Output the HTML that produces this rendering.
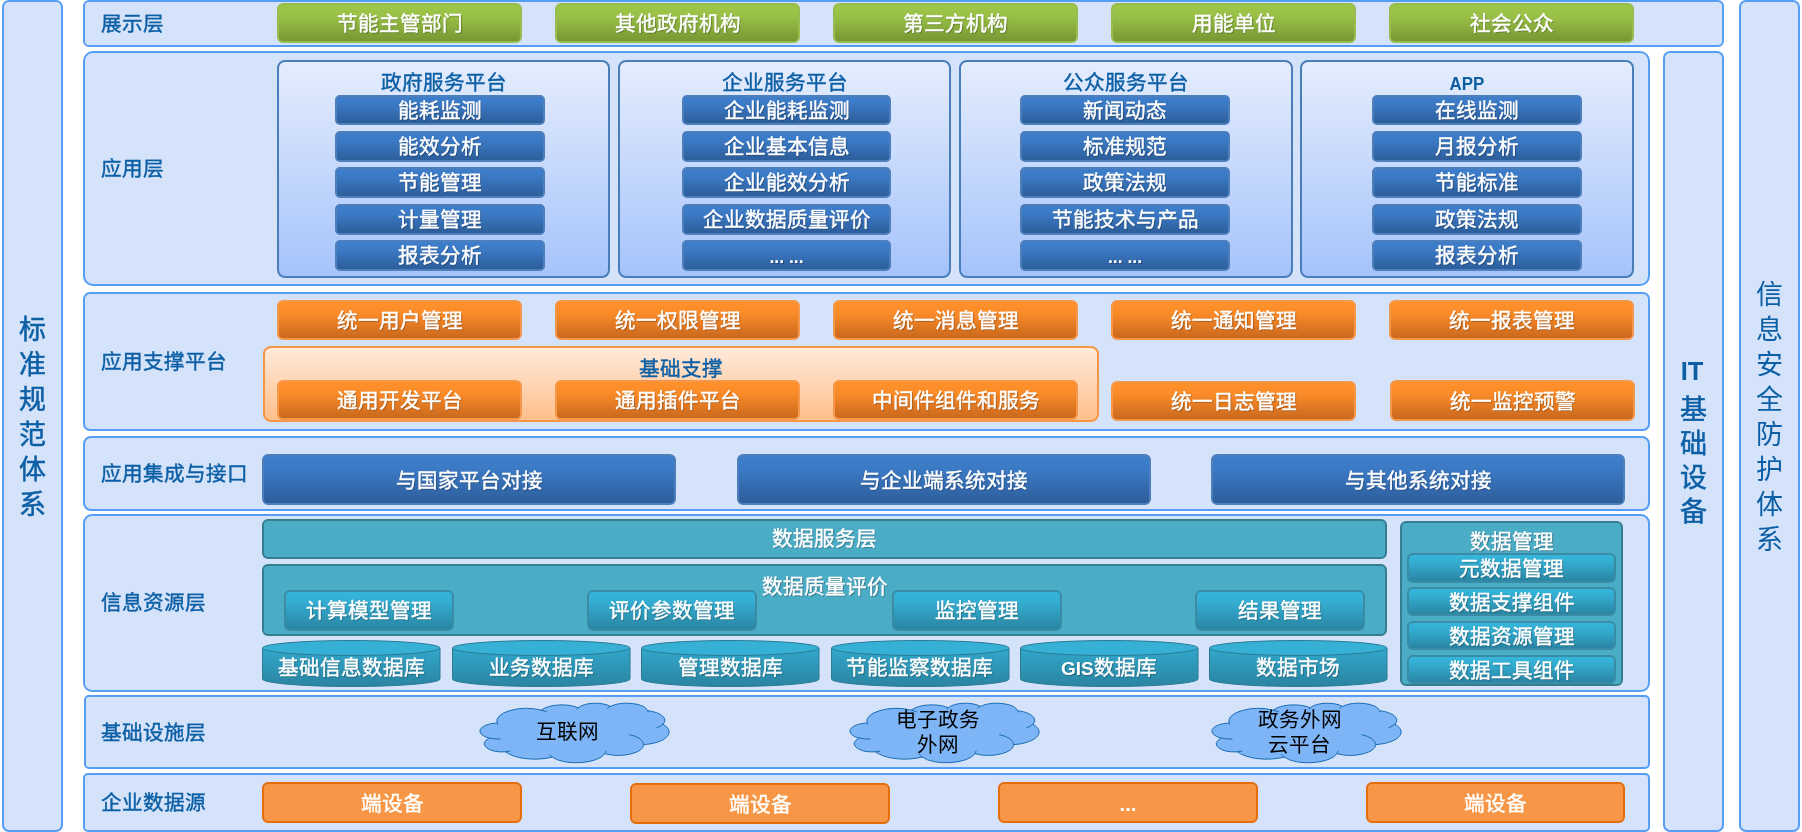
<!DOCTYPE html>
<html lang="zh-CN">
<head>
<meta charset="utf-8">
<title>架构图</title>
<style>
html,body{margin:0;padding:0}
body{width:1802px;height:832px;position:relative;overflow:hidden;background:#fff;
 font-family:"Liberation Serif",serif;font-weight:normal;-webkit-text-stroke:.4px;font-size:20.6px;line-height:1;color:#fff}
div{position:absolute;box-sizing:border-box}
#w{left:0;top:0;width:1802px;height:832px;will-change:transform}
.L{background:#d5e3fa;border:2px solid #559df5}
.lb{color:#0c5fa5;white-space:nowrap;height:24px;line-height:24px}
.c{display:flex;align-items:center;justify-content:center;white-space:nowrap;padding-top:3px;text-shadow:1px 1px 1px rgba(0,0,0,.3)}
.g{background:linear-gradient(#9dc649 0%,#99c147 30%,#779733 100%);border:2px solid #97bc50;border-radius:6px}
.o{background:linear-gradient(#ff912c 0%,#fb8c29 30%,#ca681d 100%);border:2px solid #f6974b;border-radius:6px}
.b{background:linear-gradient(#3e7ecb 0%,#3b79c4 30%,#2d5e9b 100%);border:2px solid #4d7fbc;border-radius:5px}
.t{background:linear-gradient(#36b5db 0%,#33acd0 30%,#2a85a3 100%);border:2px solid #3a8ca6;border-radius:6px}
.tf{background:#4bacc6;border:2px solid #357d91;border-radius:6px}
.of{background:#f79646;border:2px solid #e46c0a;border-radius:6px;text-shadow:none}
.pn{border:2px solid #4a7ebb;border-radius:8px;background:linear-gradient(#e5edfd,#a5c3fb)}
.pt{color:#0c5fa5;text-align:center;white-space:nowrap;height:24px;line-height:24px}
.bs{border:2px solid #f79646;border-radius:8px;background:linear-gradient(#ffeadb,#ffbf8a)}
.v{color:#0c5fa5;text-align:center;font-size:27px;line-height:35px;-webkit-text-stroke:.5px}
.cl{color:#000;font-weight:normal;-webkit-text-stroke:0;text-align:center;white-space:nowrap;font-size:20.6px;line-height:25px}
svg{position:absolute;overflow:visible}
.sans{font-family:"Liberation Sans",sans-serif;font-weight:bold;-webkit-text-stroke:0}
</style>
</head>
<body>
<div id="w">
<svg width="0" height="0" style="left:0;top:0"><defs><linearGradient id="cg" x1="0" y1="0" x2="0" y2="1"><stop offset="0" stop-color="#31a8cc"/><stop offset="1" stop-color="#2b84a1"/></linearGradient></defs></svg>
<div class="L" style="left:2px;top:0px;width:61px;height:832px;border-radius:7px"></div>
<div class="L" style="left:1663px;top:51px;width:61px;height:781px;border-radius:7px"></div>
<div class="L" style="left:1739px;top:0px;width:61px;height:832px;border-radius:7px"></div>
<div class="L" style="left:83px;top:0px;width:1641px;height:47px;border-radius:6px"></div>
<div class="L" style="left:83px;top:51px;width:1567px;height:235px;border-radius:10px"></div>
<div class="L" style="left:83px;top:292px;width:1567px;height:139px;border-radius:7px"></div>
<div class="L" style="left:83px;top:436px;width:1567px;height:75px;border-radius:8px"></div>
<div class="L" style="left:83px;top:514px;width:1567px;height:178px;border-radius:9px"></div>
<div class="L" style="left:84px;top:695px;width:1566px;height:74px;border-radius:5px"></div>
<div class="L" style="left:83px;top:773px;width:1567px;height:59px;border-radius:5px"></div>
<div class="lb" style="left:101px;top:11.5px;width:200px;height:24px;">展示层</div>
<div class="lb" style="left:101px;top:156.5px;width:200px;height:24px;">应用层</div>
<div class="lb" style="left:101px;top:349.5px;width:200px;height:24px;">应用支撑平台</div>
<div class="lb" style="left:101px;top:461.5px;width:200px;height:24px;">应用集成与接口</div>
<div class="lb" style="left:101px;top:590.5px;width:200px;height:24px;">信息资源层</div>
<div class="lb" style="left:101px;top:720.5px;width:200px;height:24px;">基础设施层</div>
<div class="lb" style="left:101px;top:790.5px;width:200px;height:24px;">企业数据源</div>
<div class="v" style="left:12.5px;top:313px;width:40px;height:210px;">标<br>准<br>规<br>范<br>体<br>系</div>
<div class="v" style="left:1749.5px;top:278px;width:40px;height:280px;-webkit-text-stroke:0">信<br>息<br>安<br>全<br>防<br>护<br>体<br>系</div>
<div class="v sans" style="left:1672px;top:354px;width:40px;height:35px;font-size:25.5px">IT</div>
<div class="v" style="left:1673.5px;top:393px;width:40px;height:136px;line-height:34px">基<br>础<br>设<br>备</div>
<div class="c g" style="left:277px;top:3px;width:245px;height:40px;">节能主管部门</div>
<div class="c g" style="left:555px;top:3px;width:245px;height:40px;">其他政府机构</div>
<div class="c g" style="left:833px;top:3px;width:245px;height:40px;">第三方机构</div>
<div class="c g" style="left:1111px;top:3px;width:245px;height:40px;">用能单位</div>
<div class="c g" style="left:1389px;top:3px;width:245px;height:40px;">社会公众</div>
<div class="pn" style="left:277px;top:60px;width:333px;height:218px;"></div>
<div class="pt" style="left:277px;top:71px;width:333px;height:24px;">政府服务平台</div>
<div class="c b" style="left:335px;top:95px;width:210px;height:30px;">能耗监测</div>
<div class="c b" style="left:335px;top:131px;width:210px;height:30.5px;">能效分析</div>
<div class="c b" style="left:335px;top:167px;width:210px;height:30.5px;">节能管理</div>
<div class="c b" style="left:335px;top:204px;width:210px;height:30.5px;">计量管理</div>
<div class="c b" style="left:335px;top:240px;width:210px;height:30.5px;">报表分析</div>
<div class="pn" style="left:618px;top:60px;width:333px;height:218px;"></div>
<div class="pt" style="left:618px;top:71px;width:333px;height:24px;">企业服务平台</div>
<div class="c b" style="left:682px;top:95px;width:209px;height:30px;">企业能耗监测</div>
<div class="c b" style="left:682px;top:131px;width:209px;height:30.5px;">企业基本信息</div>
<div class="c b" style="left:682px;top:167px;width:209px;height:30.5px;">企业能效分析</div>
<div class="c b" style="left:682px;top:204px;width:209px;height:30.5px;">企业数据质量评价</div>
<div class="c b" style="left:682px;top:240px;width:209px;height:30.5px;"><span class="sans" style="font-size:17.5px;position:relative;top:1px">... ...</span></div>
<div class="pn" style="left:959px;top:60px;width:334px;height:218px;"></div>
<div class="pt" style="left:959px;top:71px;width:334px;height:24px;">公众服务平台</div>
<div class="c b" style="left:1020px;top:95px;width:210px;height:30px;">新闻动态</div>
<div class="c b" style="left:1020px;top:131px;width:210px;height:30.5px;">标准规范</div>
<div class="c b" style="left:1020px;top:167px;width:210px;height:30.5px;">政策法规</div>
<div class="c b" style="left:1020px;top:204px;width:210px;height:30.5px;">节能技术与产品</div>
<div class="c b" style="left:1020px;top:240px;width:210px;height:30.5px;"><span class="sans" style="font-size:17.5px;position:relative;top:1px">... ...</span></div>
<div class="pn" style="left:1300px;top:60px;width:334px;height:218px;"></div>
<div class="pt" style="left:1300px;top:71px;width:334px;height:24px;"><span class="sans" style="font-size:18.4px;display:inline-block;transform:scaleX(.92)">APP</span></div>
<div class="c b" style="left:1372px;top:95px;width:210px;height:30px;">在线监测</div>
<div class="c b" style="left:1372px;top:131px;width:210px;height:30.5px;">月报分析</div>
<div class="c b" style="left:1372px;top:167px;width:210px;height:30.5px;">节能标准</div>
<div class="c b" style="left:1372px;top:204px;width:210px;height:30.5px;">政策法规</div>
<div class="c b" style="left:1372px;top:240px;width:210px;height:30.5px;">报表分析</div>
<div class="c o" style="left:277px;top:300px;width:245px;height:40px;">统一用户管理</div>
<div class="c o" style="left:555px;top:300px;width:245px;height:40px;">统一权限管理</div>
<div class="c o" style="left:833px;top:300px;width:245px;height:40px;">统一消息管理</div>
<div class="c o" style="left:1111px;top:300px;width:245px;height:40px;">统一通知管理</div>
<div class="c o" style="left:1389px;top:300px;width:245px;height:40px;">统一报表管理</div>
<div class="bs" style="left:263px;top:346px;width:836px;height:76px;"></div>
<div class="pt" style="left:263px;top:356.5px;width:836px;height:24px;">基础支撑</div>
<div class="c o" style="left:277px;top:380px;width:245px;height:39.5px;">通用开发平台</div>
<div class="c o" style="left:555px;top:380px;width:245px;height:39.5px;">通用插件平台</div>
<div class="c o" style="left:833px;top:380px;width:245px;height:39.5px;">中间件组件和服务</div>
<div class="c o" style="left:1111px;top:381px;width:245px;height:39.5px;">统一日志管理</div>
<div class="c o" style="left:1390px;top:380px;width:245px;height:41px;">统一监控预警</div>
<div class="c b" style="left:262px;top:454px;width:414px;height:51px;border-radius:6px">与国家平台对接</div>
<div class="c b" style="left:737px;top:454px;width:414px;height:51px;border-radius:6px">与企业端系统对接</div>
<div class="c b" style="left:1211px;top:454px;width:414px;height:51px;border-radius:6px">与其他系统对接</div>
<div class="c tf" style="left:262px;top:519px;width:1125px;height:40px;padding-bottom:2px">数据服务层</div>
<div class="tf" style="left:262px;top:564px;width:1125px;height:72px;"></div>
<div class="pt" style="left:262px;top:575px;width:1125px;height:24px;color:#fff;text-shadow:1px 1px 1px rgba(0,0,0,.38)">数据质量评价</div>
<div class="c t" style="left:284px;top:590px;width:170px;height:40.5px;">计算模型管理</div>
<div class="c t" style="left:587px;top:590px;width:170px;height:40.5px;">评价参数管理</div>
<div class="c t" style="left:892px;top:590px;width:170px;height:40.5px;">监控管理</div>
<div class="c t" style="left:1195px;top:590px;width:170px;height:40.5px;">结果管理</div>
<svg style="left:262px;top:640px" width="178.5" height="47" viewBox="0 0 178.5 47"><path d="M.5 8 V39 A88.75 7.5 0 0 0 178 39 V8" fill="url(#cg)" stroke="#2a7b96"/><ellipse cx="89.25" cy="8" rx="88.75" ry="7.5" fill="#36b0d5" stroke="#2a7b96"/></svg>
<div class="c" style="left:262px;top:652px;width:178.5px;height:30px;">基础信息数据库</div>
<svg style="left:452px;top:640px" width="178.5" height="47" viewBox="0 0 178.5 47"><path d="M.5 8 V39 A88.75 7.5 0 0 0 178 39 V8" fill="url(#cg)" stroke="#2a7b96"/><ellipse cx="89.25" cy="8" rx="88.75" ry="7.5" fill="#36b0d5" stroke="#2a7b96"/></svg>
<div class="c" style="left:452px;top:652px;width:178.5px;height:30px;">业务数据库</div>
<svg style="left:641px;top:640px" width="178.5" height="47" viewBox="0 0 178.5 47"><path d="M.5 8 V39 A88.75 7.5 0 0 0 178 39 V8" fill="url(#cg)" stroke="#2a7b96"/><ellipse cx="89.25" cy="8" rx="88.75" ry="7.5" fill="#36b0d5" stroke="#2a7b96"/></svg>
<div class="c" style="left:641px;top:652px;width:178.5px;height:30px;">管理数据库</div>
<svg style="left:830.5px;top:640px" width="178.5" height="47" viewBox="0 0 178.5 47"><path d="M.5 8 V39 A88.75 7.5 0 0 0 178 39 V8" fill="url(#cg)" stroke="#2a7b96"/><ellipse cx="89.25" cy="8" rx="88.75" ry="7.5" fill="#36b0d5" stroke="#2a7b96"/></svg>
<div class="c" style="left:830.5px;top:652px;width:178.5px;height:30px;">节能监察数据库</div>
<svg style="left:1019.5px;top:640px" width="178.5" height="47" viewBox="0 0 178.5 47"><path d="M.5 8 V39 A88.75 7.5 0 0 0 178 39 V8" fill="url(#cg)" stroke="#2a7b96"/><ellipse cx="89.25" cy="8" rx="88.75" ry="7.5" fill="#36b0d5" stroke="#2a7b96"/></svg>
<div class="c" style="left:1019.5px;top:652px;width:178.5px;height:30px;"><span class="sans" style="font-size:19px">GIS</span>数据库</div>
<svg style="left:1208.5px;top:640px" width="178.5" height="47" viewBox="0 0 178.5 47"><path d="M.5 8 V39 A88.75 7.5 0 0 0 178 39 V8" fill="url(#cg)" stroke="#2a7b96"/><ellipse cx="89.25" cy="8" rx="88.75" ry="7.5" fill="#36b0d5" stroke="#2a7b96"/></svg>
<div class="c" style="left:1208.5px;top:652px;width:178.5px;height:30px;">数据市场</div>
<div class="tf" style="left:1400px;top:521px;width:223px;height:165px;"></div>
<div class="pt" style="left:1400px;top:530px;width:223px;height:24px;color:#fff;text-shadow:1px 1px 1px rgba(0,0,0,.38)">数据管理</div>
<div class="c t" style="left:1407px;top:553px;width:209px;height:30px;">元数据管理</div>
<div class="c t" style="left:1407px;top:587px;width:209px;height:29px;">数据支撑组件</div>
<div class="c t" style="left:1407px;top:621px;width:209px;height:29px;">数据资源管理</div>
<div class="c t" style="left:1407px;top:655px;width:209px;height:29px;">数据工具组件</div>
<svg style="left:480px;top:703px" width="189" height="60" viewBox="0 0 189 60"><path d="M17.06 19.79A29.54 12.66 0 0 1 61.27 7.16A23.33 10.01 0 0 1 98.25 4.73A19.1 8.19 0 0 1 130.52 3.42A21.25 9.08 0 0 1 167.64 7.68A23.33 10.02 0 0 1 182.96 21.29A29.64 12.7 0 0 1 163.64 41.6A25.31 10.84 0 0 1 124.93 50.7A29.54 12.69 0 0 1 72.1 54.08A33.78 14.52 0 0 1 25.4 48.85A19.08 8.15 0 0 1 9.25 35.19A19.01 8.19 0 0 1 16.9 19.98Z" fill="#7db5f6" stroke="#1a6db3" stroke-width="1"/><path d="M20.53 36.05A19.01 8.19 0 0 1 9.45 34.96M30.31 48.07A19.08 8.15 0 0 1 25.46 48.59M72.09 53.84A29.54 12.69 0 0 1 69.17 51.44M126.12 47.86A29.54 12.69 0 0 1 124.95 50.49M149.31 31.61A25.31 10.84 0 0 1 163.54 41.44M182.87 21.15A23.33 10.02 0 0 1 176.53 24.83M167.67 7.47A21.25 9.08 0 0 1 168 9.21M127.22 5.44A21.25 9.08 0 0 1 130.46 3.22M96.87 6.5A19.1 8.19 0 0 1 98.44 4.59M61.25 7.15A29.54 12.66 0 0 1 66.94 9.01M18.06 21.75A29.54 12.66 0 0 1 17.06 19.79" fill="none" stroke="#1a6db3" stroke-width="1"/></svg>
<div class="cl" style="left:473.3px;top:720px;width:189px;height:25px;">互联网</div>
<svg style="left:850px;top:703px" width="189" height="60" viewBox="0 0 189 60"><path d="M17.06 19.79A29.54 12.66 0 0 1 61.27 7.16A23.33 10.01 0 0 1 98.25 4.73A19.1 8.19 0 0 1 130.52 3.42A21.25 9.08 0 0 1 167.64 7.68A23.33 10.02 0 0 1 182.96 21.29A29.64 12.7 0 0 1 163.64 41.6A25.31 10.84 0 0 1 124.93 50.7A29.54 12.69 0 0 1 72.1 54.08A33.78 14.52 0 0 1 25.4 48.85A19.08 8.15 0 0 1 9.25 35.19A19.01 8.19 0 0 1 16.9 19.98Z" fill="#7db5f6" stroke="#1a6db3" stroke-width="1"/><path d="M20.53 36.05A19.01 8.19 0 0 1 9.45 34.96M30.31 48.07A19.08 8.15 0 0 1 25.46 48.59M72.09 53.84A29.54 12.69 0 0 1 69.17 51.44M126.12 47.86A29.54 12.69 0 0 1 124.95 50.49M149.31 31.61A25.31 10.84 0 0 1 163.54 41.44M182.87 21.15A23.33 10.02 0 0 1 176.53 24.83M167.67 7.47A21.25 9.08 0 0 1 168 9.21M127.22 5.44A21.25 9.08 0 0 1 130.46 3.22M96.87 6.5A19.1 8.19 0 0 1 98.44 4.59M61.25 7.15A29.54 12.66 0 0 1 66.94 9.01M18.06 21.75A29.54 12.66 0 0 1 17.06 19.79" fill="none" stroke="#1a6db3" stroke-width="1"/></svg>
<div class="cl" style="left:843.3px;top:707.5px;width:189px;height:50px;">电子政务<br>外网</div>
<svg style="left:1212px;top:703px" width="189" height="60" viewBox="0 0 189 60"><path d="M17.06 19.79A29.54 12.66 0 0 1 61.27 7.16A23.33 10.01 0 0 1 98.25 4.73A19.1 8.19 0 0 1 130.52 3.42A21.25 9.08 0 0 1 167.64 7.68A23.33 10.02 0 0 1 182.96 21.29A29.64 12.7 0 0 1 163.64 41.6A25.31 10.84 0 0 1 124.93 50.7A29.54 12.69 0 0 1 72.1 54.08A33.78 14.52 0 0 1 25.4 48.85A19.08 8.15 0 0 1 9.25 35.19A19.01 8.19 0 0 1 16.9 19.98Z" fill="#7db5f6" stroke="#1a6db3" stroke-width="1"/><path d="M20.53 36.05A19.01 8.19 0 0 1 9.45 34.96M30.31 48.07A19.08 8.15 0 0 1 25.46 48.59M72.09 53.84A29.54 12.69 0 0 1 69.17 51.44M126.12 47.86A29.54 12.69 0 0 1 124.95 50.49M149.31 31.61A25.31 10.84 0 0 1 163.54 41.44M182.87 21.15A23.33 10.02 0 0 1 176.53 24.83M167.67 7.47A21.25 9.08 0 0 1 168 9.21M127.22 5.44A21.25 9.08 0 0 1 130.46 3.22M96.87 6.5A19.1 8.19 0 0 1 98.44 4.59M61.25 7.15A29.54 12.66 0 0 1 66.94 9.01M18.06 21.75A29.54 12.66 0 0 1 17.06 19.79" fill="none" stroke="#1a6db3" stroke-width="1"/></svg>
<div class="cl" style="left:1205.3px;top:707.5px;width:189px;height:50px;">政务外网<br>云平台</div>
<div class="c of" style="left:262px;top:782px;width:260px;height:41px;">端设备</div>
<div class="c of" style="left:630px;top:783px;width:260px;height:41px;">端设备</div>
<div class="c of" style="left:998px;top:782px;width:260px;height:41px;"><span class="sans">...</span></div>
<div class="c of" style="left:1366px;top:782px;width:259px;height:41px;">端设备</div>
</div>
</body>
</html>
